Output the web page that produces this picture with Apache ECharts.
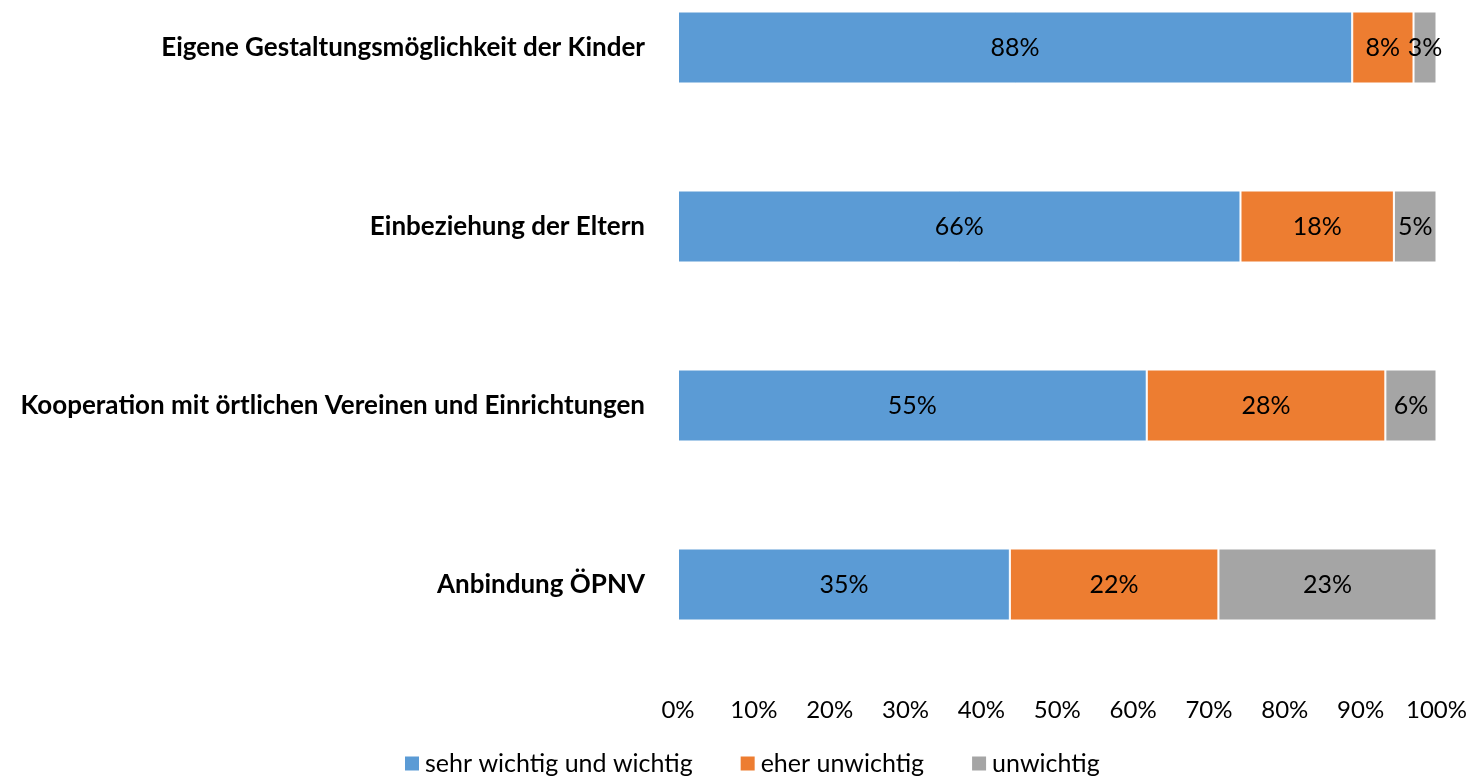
<!DOCTYPE html>
<html>
<head>
<meta charset="utf-8">
<script src="https://cdn.jsdelivr.net/npm/echarts@6/dist/echarts.min.js"></script>
<style>
    html, body { margin: 0; padding: 0; background: #fff; overflow: hidden; }
    /* oberes Band ist im Original abgeschnitten -> Chart etwas nach oben versetzen */
    #main { width: 1470px; height: 819px; margin-top: -42px; }
</style>
</head>
<body>
<div id="main"></div>
<script>
    // Kategorien von oben nach unten
    const categories = [
        'Eigene Gestaltungsmöglichkeit der Kinder',
        'Einbeziehung der Eltern',
        'Kooperation mit örtlichen Vereinen und Einrichtungen',
        'Anbindung ÖPNV'
    ];
    const seriesNames = ['sehr wichtig und wichtig', 'eher unwichtig', 'unwichtig'];
    // Rohwerte in Prozent (wie beschriftet)
    const sehrWichtig = [88, 66, 55, 35];
    const eherUnwichtig = [8, 18, 28, 22];
    const unwichtig = [3, 5, 6, 23];
    const xTicks = ['0%', '10%', '20%', '30%', '40%', '50%', '60%', '70%', '80%', '90%', '100%'];

    const colors = ['#5B9BD5', '#ED7D31', '#A5A5A5'];
    const font = 'Lato, "Open Sans", sans-serif';

    // 100%-gestapelt: Anteile an der Zeilensumme
    const raw = [sehrWichtig, eherUnwichtig, unwichtig];
    const totals = categories.map((c, i) => raw.reduce((s, arr) => s + arr[i], 0));

    const myEchart = echarts.init(document.getElementById('main'));

    const series = raw.map((arr, k) => ({
        name: seriesNames[k],
        type: 'bar',
        stack: 'total',
        barWidth: 72,
        itemStyle: { color: colors[k], borderColor: '#fff', borderWidth: 1 },
        label: {
            show: true,
            position: 'inside',
            color: '#000',
            fontSize: 25,
            fontFamily: font,
            formatter: p => arr[p.dataIndex] + '%'
        },
        data: arr.map((v, i) => v / totals[i] * 100)
    }));

    const option = {
        animation: false,
        color: colors,
        textStyle: { fontFamily: font },
        grid: { left: 678, right: 31, top: 0, height: 716 },
        legend: {
            left: 398,
            top: 788,
            itemWidth: 16,
            itemHeight: 16,
            itemGap: 46,
            icon: 'rect',
            textStyle: { fontSize: 25, color: '#000', fontFamily: font },
            data: seriesNames
        },
        xAxis: {
            type: 'value',
            min: 0,
            max: 100,
            interval: 10,
            splitLine: { show: false },
            axisLine: { show: false },
            axisTick: { show: false },
            axisLabel: {
                margin: 24,
                fontSize: 24,
                color: '#000',
                fontFamily: font,
                formatter: (v) => xTicks[Math.round(v / 10)]
            }
        },
        yAxis: {
            type: 'category',
            inverse: true,
            data: categories,
            axisLine: { show: false },
            axisTick: { show: false },
            axisLabel: {
                margin: 33,
                fontSize: 26,
                fontWeight: 'bold',
                color: '#000',
                fontFamily: font
            }
        },
        series: series
    };
    myEchart.setOption(option);
</script>
</body>
</html>
